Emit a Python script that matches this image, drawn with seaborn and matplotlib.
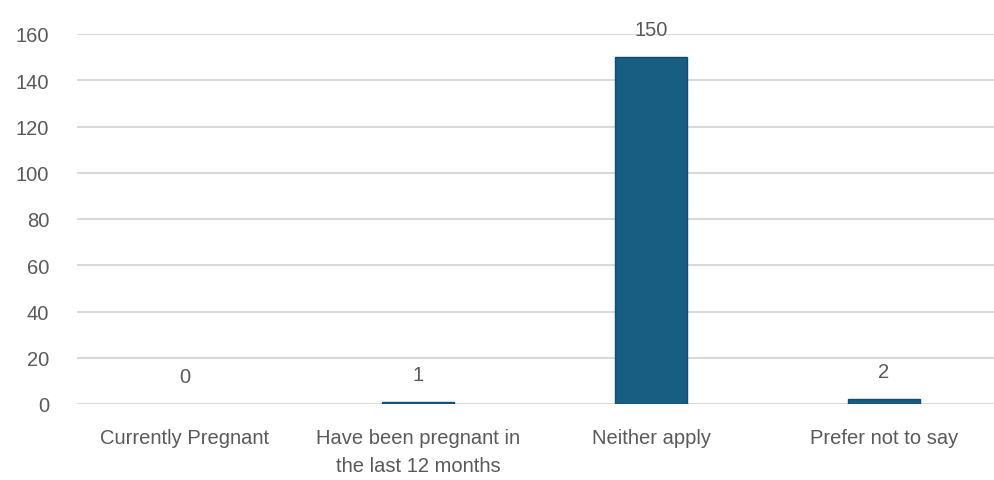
import matplotlib
matplotlib.use("Agg")
import matplotlib.pyplot as plt
import seaborn as sns
import pandas as pd

categories = ["Currently Pregnant", "Have been pregnant in\nthe last 12 months",
              "Neither apply", "Prefer not to say"]
counts = [0, 1, 150, 2]
y_ticks = [0, 20, 40, 60, 80, 100, 120, 140, 160]

sns.set_theme(style="white")
plt.rcParams["font.family"] = ["Liberation Sans", "DejaVu Sans"]

text_color = "#595959"
grid_color = "#d9d9d9"
bar_color = "#175e82"

df = pd.DataFrame({"category": categories, "count": counts})

fig = plt.figure(figsize=(9.94, 4.81), dpi=100)
ax = fig.add_axes([77 / 994, (481 - 405) / 481, (994 - 77) / 994, 370 / 481])

sns.barplot(data=df, x="category", y="count", color=bar_color, width=0.31,
            saturation=1, edgecolor="#114e6e", linewidth=1, ax=ax, zorder=3)
# empty bars get no outline
for patch in ax.patches:
    if patch.get_height() == 0:
        patch.set_linewidth(0)

ax.set_ylim(0, 160)
ax.set_xlim(-0.4635, 3.472)
ax.set_yticks(y_ticks)
for t in y_ticks:
    ax.axhline(t, color=grid_color, lw=1.5, zorder=1)

for i, v in enumerate(counts):
    ax.annotate(str(v), (i, v), xytext=(0, 13), textcoords="offset points",
                ha="center", va="bottom", fontsize=14.5, color=text_color)

for s in ax.spines.values():
    s.set_visible(False)
ax.set_xlabel("")
ax.set_ylabel("")
ax.tick_params(axis="y", length=0, pad=20, labelsize=14.5, labelcolor=text_color)
ax.tick_params(axis="x", length=0, pad=17, labelsize=14.5, labelcolor=text_color)
for lbl in ax.get_xticklabels():
    lbl.set_linespacing(1.6)
ax.grid(False)

fig.savefig("out.png", dpi=100)
